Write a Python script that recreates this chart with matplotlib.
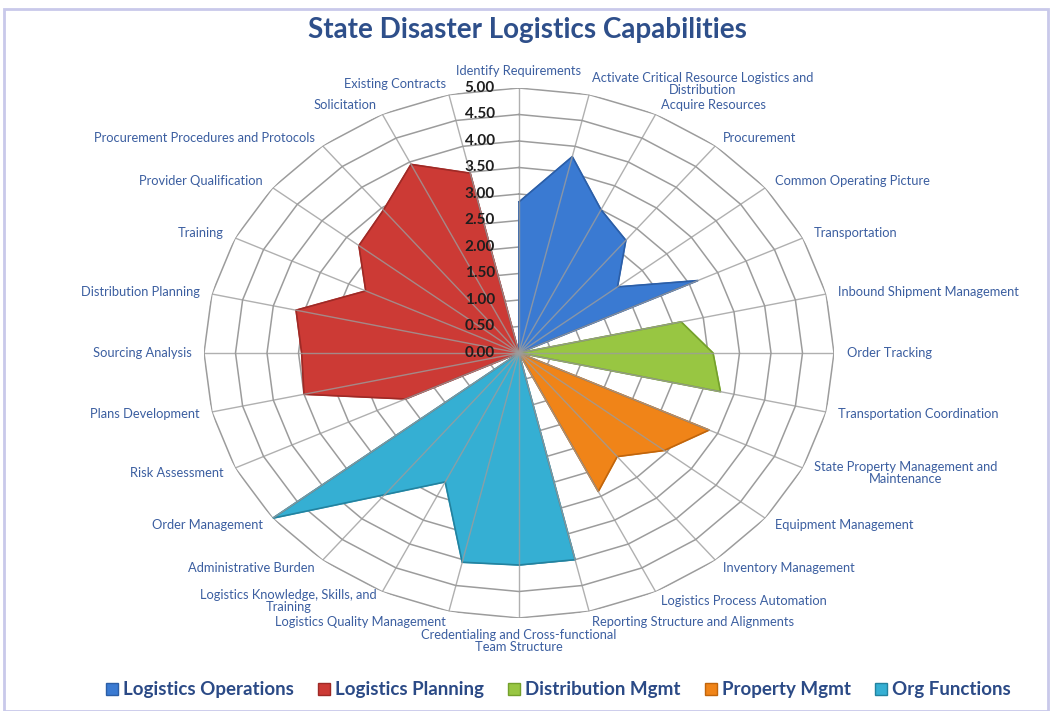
import numpy as np
import matplotlib
matplotlib.use('Agg')
import matplotlib.pyplot as plt
from matplotlib.lines import Line2D
from matplotlib.patches import Rectangle

plt.rcParams['font.family'] = ['Lato', 'DejaVu Sans']

categories = [
    'Identify Requirements',
    'Activate Critical Resource Logistics and\nDistribution',
    'Acquire Resources',
    'Procurement',
    'Common Operating Picture',
    'Transportation',
    'Inbound Shipment Management',
    'Order Tracking',
    'Transportation Coordination',
    'State Property Management and\nMaintenance',
    'Equipment Management',
    'Inventory Management',
    'Logistics Process Automation',
    'Reporting Structure and Alignments',
    'Credentialing and Cross-functional\nTeam Structure',
    'Logistics Quality Management',
    'Logistics Knowledge, Skills, and\nTraining',
    'Administrative Burden',
    'Order Management',
    'Risk Assessment',
    'Plans Development',
    'Sourcing Analysis',
    'Distribution Planning',
    'Training',
    'Provider Qualification',
    'Procurement Procedures and Protocols',
    'Solicitation',
    'Existing Contracts',
]

# each series only scores its own block of categories, zero elsewhere
series_names = ['Logistics Operations', 'Logistics Planning', 'Distribution Mgmt',
                'Property Mgmt', 'Org Functions']
ops_vals = [2.85, 3.8, 3.0, 2.72, 2.0, 3.15]                       # cats 0-5
plan_vals = [2.0, 3.5, 3.45, 3.63, 2.7, 3.25, 3.45, 3.95, 3.48]   # cats 19-27
dist_vals = [2.64, 3.08, 3.28]                                     # cats 6-8
prop_vals = [3.35, 2.95, 2.5, 2.9]                                 # cats 9-12
org_vals = [4.0, 4.0, 4.05, 2.7, 3.42, 5.0]                        # cats 13-18
series_start = [0, 19, 6, 9, 13]

fill_colors = ['#3a7ad2', '#cc3a35', '#98c642', '#f08418', '#35afd3']
edge_colors = ['#2c5ea6', '#9e2a26', '#74a02c', '#c0650c', '#23829f']

ring_vals = np.arange(0.5, 5.01, 0.5)

n = len(categories)
angles = np.arange(n) * 2 * np.pi / n

fig = plt.figure(figsize=(10.5, 7.11), dpi=100)
fig.patches.append(Rectangle((0.004, 0.0), 0.994, 0.988, transform=fig.transFigure,
                             fill=False, edgecolor='#c9c9ea', lw=2))

ax = fig.add_axes([204 / 1050, 93 / 711, 630 / 1050, 530 / 711], projection='polar')
ax.set_aspect('auto')
ax.set_theta_zero_location('N')
ax.set_theta_direction(-1)
ax.set_ylim(0, 5)
ax.grid(False)
ax.set_xticks([])
ax.set_yticks([])
ax.spines['polar'].set_visible(False)
ax.patch.set_alpha(0)

closed = np.append(angles, angles[0])

# polygon rings
for r in ring_vals:
    ax.plot(closed, [r] * (n + 1), color='#9c9c9c', lw=1.1, zorder=1)

# series fills
all_vals = [ops_vals, plan_vals, dist_vals, prop_vals, org_vals]
for name, vals, start, fc, ec in zip(series_names, all_vals, series_start,
                                      fill_colors, edge_colors):
    full = np.zeros(n)
    full[start:start + len(vals)] = vals
    full = np.append(full, full[0])
    ax.fill(closed, full, color=fc, zorder=2)
    ax.plot(closed, full, color=ec, lw=1.2, zorder=3)

# spokes on top
for a in angles:
    ax.plot([a, a], [0, 5], color='#9c9c9c', lw=1.0, alpha=0.8, zorder=4)

# radial value labels
for r in np.arange(0, 5.01, 0.5):
    ax.annotate('%.2f' % r, xy=(0, r), xytext=(-24, 0), textcoords='offset pixels',
                ha='right', va='center', fontsize=11, fontweight='bold',
                color='#1e1e1e', zorder=5)

# category labels
for a, lab in zip(angles, categories):
    deg = np.degrees(a)
    if deg < 1 or abs(deg - 180) < 1:
        ha = 'center'
    elif deg < 180:
        ha = 'left'
    else:
        ha = 'right'
    if deg < 1:
        va = 'bottom'
    elif abs(deg - 180) < 1:
        va = 'top'
    else:
        va = 'center'
    ax.text(a, 5.2, lab, ha=ha, va=va, multialignment='center',
            fontsize=9.3, color='#3b5ea0', linespacing=1.0)

fig.text(0.502, 0.958, 'State Disaster Logistics Capabilities', ha='center', va='center',
         fontsize=20, fontweight='bold', color='#2e4f8a')

handles = [Line2D([], [], marker='s', ls='none', markersize=8, markerfacecolor=fc,
                  markeredgecolor=ec) for fc, ec in zip(fill_colors, edge_colors)]
leg = fig.legend(handles, series_names, loc='center', bbox_to_anchor=(0.53, 0.03),
                 ncol=5, frameon=False, fontsize=13.5, handletextpad=0.1,
                 columnspacing=1.1, handlelength=1.0)
for t in leg.get_texts():
    t.set_fontweight('bold')
    t.set_color('#2b4a86')

fig.savefig('out.png', dpi=100)
